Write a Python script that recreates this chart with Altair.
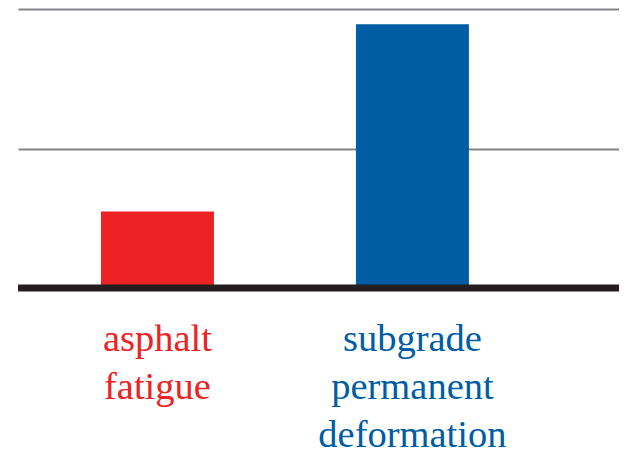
import altair as alt
import pandas as pd

categories = ["asphalt fatigue", "subgrade permanent deformation"]
values = [0.548, 1.89]
colors = ["#ed2224", "#005ca3"]
grid_values = [0, 1, 2]

df = pd.DataFrame({"category": categories, "value": values})
base_df = pd.DataFrame({"y": [0]})

SERIF = "'Liberation Serif', 'Times New Roman', 'DejaVu Serif', serif"

x_enc = alt.X(
    "category:N",
    sort=categories,
    scale=alt.Scale(paddingInner=0.557, paddingOuter=0.457, align=0.356),
    axis=alt.Axis(
        title=None,
        domain=False,
        ticks=False,
        labelAngle=0,
        labelAlign="center",
        labelFont=SERIF,
        labelFontSize=38.5,
        labelLineHeight=48,
        labelPadding=32,
        labelLimit=0,
        labelExpr="split(datum.label, ' ')",
        labelColor={"expr": f"datum.value == '{categories[0]}' ? '{colors[0]}' : '{colors[1]}'"},
    ),
)

y_scale = alt.Scale(domain=[0, 2], nice=False, zero=True)

bars = alt.Chart(df).mark_bar().encode(
    x=x_enc,
    y=alt.Y(
        "value:Q",
        scale=y_scale,
        axis=alt.Axis(
            title=None,
            domain=False,
            ticks=False,
            labels=False,
            values=grid_values,
            grid=True,
            gridColor="#838388",
            gridWidth=2,
        ),
    ),
    color=alt.Color("category:N", scale=alt.Scale(domain=categories, range=colors), legend=None),
)

baseline = alt.Chart(base_df).mark_rule(color="#231f20", strokeWidth=7).encode(
    y=alt.Y("y:Q", scale=y_scale)
)

chart = (
    alt.layer(bars, baseline)
    .properties(
        width=601,
        height=279,
        autosize=alt.AutoSizeParams(type="none"),
        padding={"left": 10, "top": 1, "right": 0, "bottom": 166},
        background="white",
    )
    .configure_view(stroke=None)
    .configure_axis(labelFont=SERIF)
)

chart.save("out.html", embed_options={"renderer": "svg", "actions": False})
